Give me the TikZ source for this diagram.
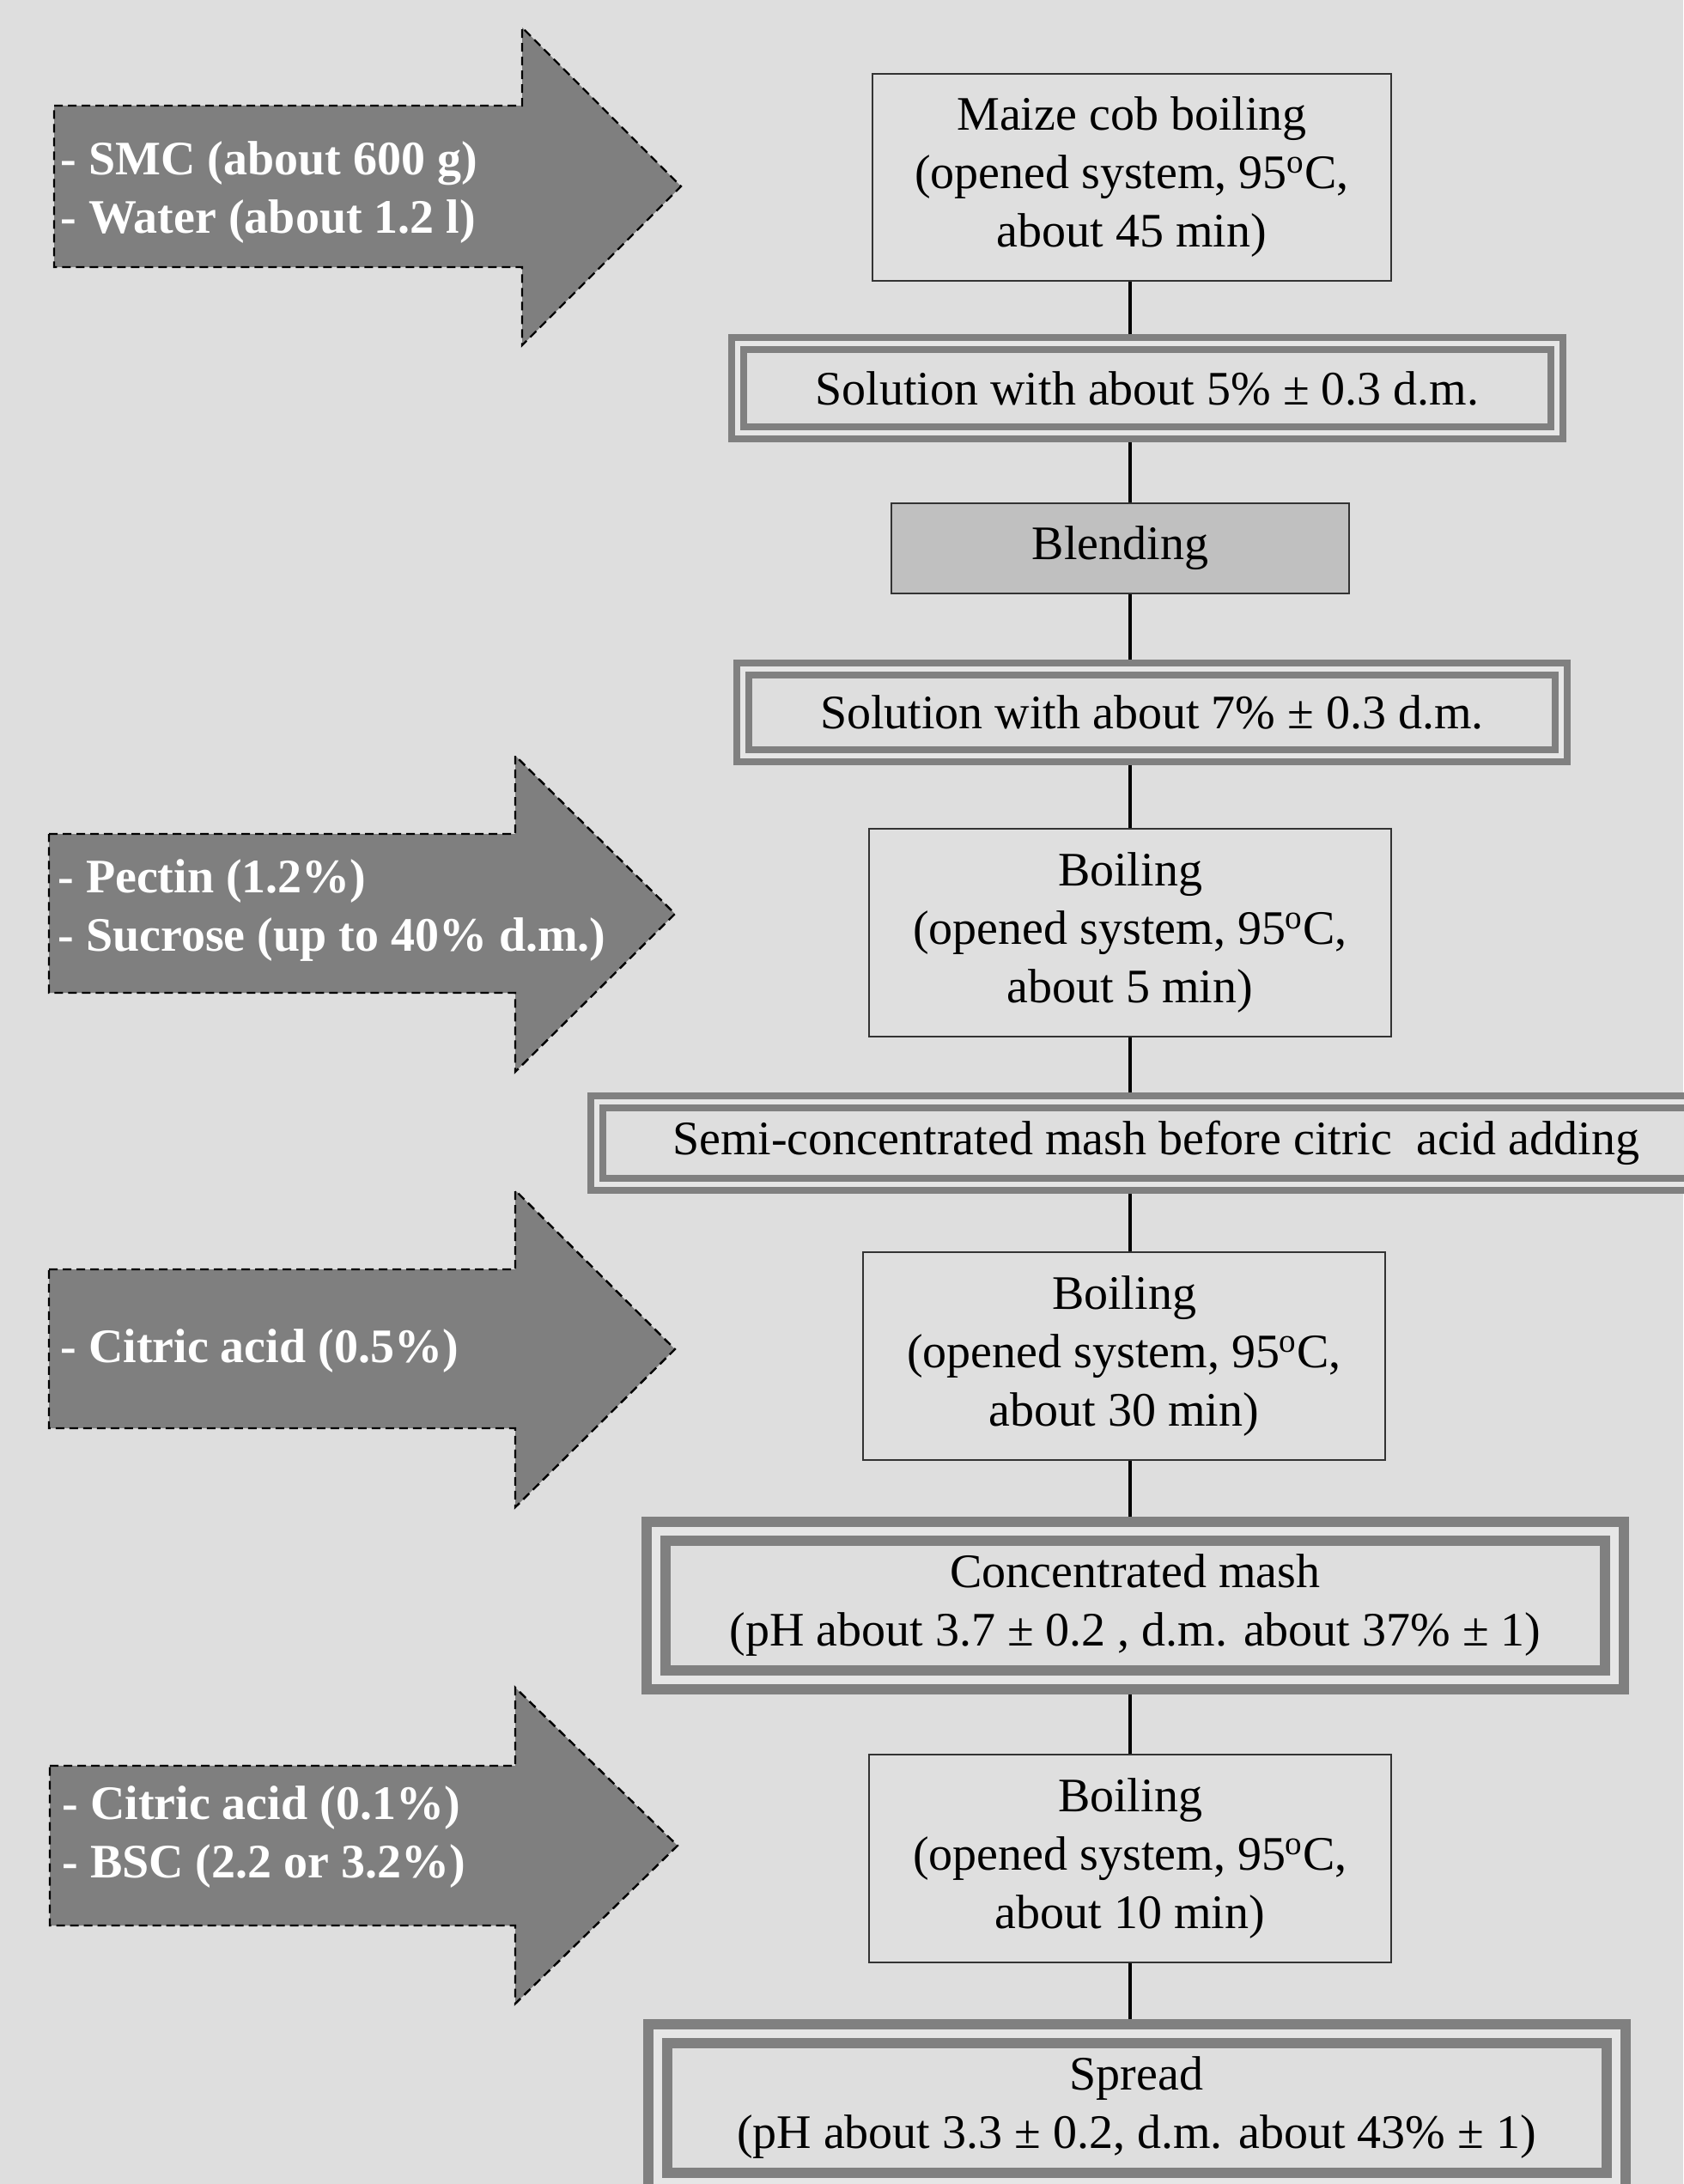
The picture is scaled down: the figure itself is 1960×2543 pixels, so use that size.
\documentclass[tikz,border=0pt]{standalone}
\usepackage{fontspec}
\setmainfont{Liberation Serif}
\usetikzlibrary{positioning}
\definecolor{bggrey}{HTML}{DEDEDE}
\definecolor{boxfill}{HTML}{DFDFDF}
\definecolor{blendfill}{HTML}{C0C0C0}
\definecolor{framegrey}{HTML}{808080}
\definecolor{stripe}{HTML}{E6E6E6}
\definecolor{arrowgrey}{HTML}{7F7F7F}

\begin{document}
\begin{tikzpicture}[x=0.5pt,y=-0.5pt,
    font=\fontsize{28}{34}\selectfont,
    stepbox/.style={draw=black!80,line width=1pt,fill=boxfill,align=center,inner sep=0pt,
            minimum width=302pt,minimum height=120.5pt},
    thinframe/.style={draw=framegrey,line width=4pt,double=stripe,double distance=3pt,
            fill=bggrey,align=center,inner sep=0pt,outer sep=5.5pt},
    thickframe/.style={thinframe,line width=6pt,double distance=5pt,outer sep=8.5pt,
            minimum width=558pt,minimum height=86.5pt},
    addarrow/.style={fill=arrowgrey,draw=black,line width=1.2pt,dash pattern=on 5pt off 3pt},
    addtext/.style={anchor=west,align=left,inner sep=0pt,text=white,
            font=\fontsize{28}{34}\selectfont\bfseries},
    link/.style={line width=2.2pt}]

\useasboundingbox (0,0) rectangle (1960,2543);
\fill[bggrey] (0,0) rectangle (1960,2543);

%Additions==============================================================
\draw[addarrow] (63,123) -- (608,123) -- (608,32) -- (793,217) -- (608,402) -- (608,311) -- (63,311) -- cycle;
\draw[addarrow] (57,971) -- (600,971) -- (600,880) -- (786,1064) -- (600,1248) -- (600,1156) -- (57,1156) -- cycle;
\draw[addarrow] (57,1478) -- (600,1478) -- (600,1386) -- (786,1571) -- (600,1755) -- (600,1663) -- (57,1663) -- cycle;
\draw[addarrow] (58,2056) -- (600,2056) -- (600,1965) -- (789,2149) -- (600,2333) -- (600,2242) -- (58,2242) -- cycle;

\node[addtext] (in1) at (70,224) {- SMC (about 600 g)\\- Water (about 1.2 l)};
\node[addtext] (in2) at (67,1060) {- Pectin (1.2\%)\\- Sucrose (up to 40\% d.m.)};
\node[addtext] (in3) at (70,1573) {- Citric acid (0.5\%)};
\node[addtext] (in4) at (72,2139) {- Citric acid (0.1\%)\\- BSC (2.2 or 3.2\%)};
%=======================================================================

%Process================================================================
\node[stepbox] (maize) at (1318,206.5) {Maize cob boiling\\(opened system, 95\textsuperscript{o}C,\\about 45 min)};
\node[thinframe,minimum width=477pt,minimum height=52pt,below=30.5pt of maize,xshift=9pt] (sol5) {Solution with about 5\% ± 0.3 d.m.};
\node[stepbox,fill=blendfill,minimum width=266.5pt,minimum height=52.5pt,below=35pt of sol5,xshift=-15.75pt] (blend) {Blending};
\node[thinframe,minimum width=476.5pt,minimum height=50.5pt,below=38pt of blend,xshift=18.5pt] (sol7) {Solution with about 7\% ± 0.3 d.m.};
\node[stepbox,minimum width=304pt,minimum height=121pt,below=36.5pt of sol7,xshift=-12.75pt] (boil1) {Boiling\\(opened system, 95\textsuperscript{o}C,\\about 5 min)};
\node[thinframe,minimum width=651pt,minimum height=48pt,below=32pt of boil1,xshift=15pt] (semi) {Semi-concentrated mash before citric\ \ acid adding};
\node[stepbox,minimum width=304pt,minimum height=121pt,below=33.5pt of semi,xshift=-18.5pt] (boil2) {Boiling\\(opened system, 95\textsuperscript{o}C,\\about 30 min)};
\node[thickframe,below=32.5pt of boil2,xshift=6.5pt] (conc) {Concentrated mash\\(pH about 3.7 ± 0.2 , d.m. about 37\% ± 1)};
\node[stepbox,minimum width=304pt,minimum height=121pt,below=34.5pt of conc,xshift=-3pt] (boil3) {Boiling\\(opened system, 95\textsuperscript{o}C,\\about 10 min)};
\node[thickframe,below=32.5pt of boil3,xshift=3.75pt] (spread) {Spread\\(pH about 3.3 ± 0.2, d.m. about 43\% ± 1)};
%=======================================================================

%Links==================================================================
\coordinate (spine) at (1316,0);
\draw[link] (spine |- maize.south) -- (spine |- sol5.north);
\draw[link] (spine |- sol5.south) -- (spine |- blend.north);
\draw[link] (spine |- blend.south) -- (spine |- sol7.north);
\draw[link] (spine |- sol7.south) -- (spine |- boil1.north);
\draw[link] (spine |- boil1.south) -- (spine |- semi.north);
\draw[link] (spine |- semi.south) -- (spine |- boil2.north);
\draw[link] (spine |- boil2.south) -- (spine |- conc.north);
\draw[link] (spine |- conc.south) -- (spine |- boil3.north);
\draw[link] (spine |- boil3.south) -- (spine |- spread.north);
%=======================================================================

\end{tikzpicture}
\end{document}
